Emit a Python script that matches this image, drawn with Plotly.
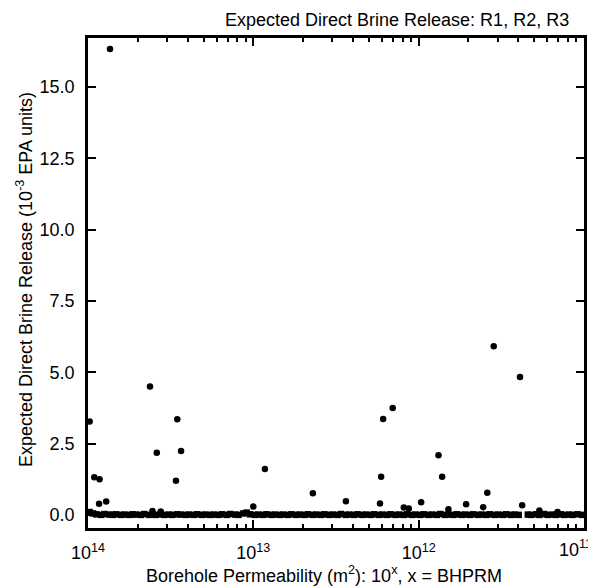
import plotly.graph_objects as go

# Outlier realizations: BHPRM (log10 permeability) and expected release (1e-3 EPA units)
bhprm_hi = [-13.867, -13.99, -13.625, -13.46, -13.584, -13.437, -13.468, -13.962, -13.93,
            -12.93, -12.64, -13.933, -13.89, -13.0, -13.61, -13.56,
            -11.546, -11.387, -12.157, -12.215, -11.88, -12.227, -11.858, -11.585,
            -12.44, -12.234, -11.985, -11.713, -11.61, -11.374, -12.09, -12.06, -11.82,
            -11.27, -11.16]
rel_hi = [16.33, 3.27, 4.50, 3.35, 2.18, 2.24, 1.20, 1.32, 1.25,
          1.61, 0.76, 0.39, 0.47, 0.29, 0.14, 0.12,
          5.91, 4.83, 3.75, 3.36, 2.09, 1.34, 1.34, 0.78,
          0.48, 0.40, 0.44, 0.37, 0.27, 0.34, 0.26, 0.22, 0.20,
          0.15, 0.10]

# Realizations with near-zero release (dense band)
bhprm_lo = [-13.99, -13.97, -13.95, -13.92, -13.90, -13.87, -13.85, -13.83, -13.80, -13.78,
            -13.75, -13.73, -13.71, -13.68, -13.66, -13.63, -13.61, -13.59, -13.56, -13.54,
            -13.51, -13.49, -13.46, -13.44, -13.41, -13.39, -13.36, -13.34, -13.31, -13.29,
            -13.26, -13.24, -13.21, -13.19, -13.16, -13.14, -13.11, -13.09, -13.06, -13.04,
            -13.02, -12.99, -12.97, -12.94, -12.92, -12.89, -12.87, -12.84, -12.82, -12.79,
            -12.77, -12.74, -12.72, -12.69, -12.67, -12.64, -12.62, -12.59, -12.57, -12.54,
            -12.52, -12.49, -12.47, -12.44, -12.42, -12.39, -12.37, -12.34, -12.32, -12.29,
            -12.27, -12.24, -12.22, -12.19, -12.17, -12.14, -12.12, -12.09, -12.07, -12.04,
            -12.02, -11.99, -11.97, -11.94, -11.92, -11.89, -11.87, -11.84, -11.82, -11.79,
            -11.77, -11.74, -11.72, -11.69, -11.67, -11.64, -11.62, -11.59, -11.57, -11.54,
            -11.52, -11.49, -11.47, -11.44, -11.42, -11.395, -11.34, -11.32, -11.29, -11.27,
            -11.24, -11.22, -11.19, -11.17, -11.14, -11.12, -11.09, -11.07, -11.04, -11.01]
rel_lo = [0.10, 0.05, 0.02, 0.00, 0.03, 0.01, 0.00, 0.02, 0.00, 0.01,
          0.00, 0.02, 0.01, 0.00, 0.03, 0.00, 0.01, 0.00, 0.02, 0.00,
          0.01, 0.00, 0.02, 0.01, 0.00, 0.01, 0.00, 0.02, 0.00, 0.01,
          0.00, 0.01, 0.00, 0.02, 0.00, 0.03, 0.01, 0.00, 0.05, 0.08,
          0.02, 0.00, 0.01, 0.00, 0.02, 0.00, 0.01, 0.00, 0.01, 0.00,
          0.02, 0.00, 0.01, 0.00, 0.02, 0.00, 0.01, 0.00, 0.02, 0.00,
          0.01, 0.00, 0.03, 0.00, 0.01, 0.00, 0.02, 0.00, 0.01, 0.00,
          0.02, 0.00, 0.01, 0.00, 0.02, 0.00, 0.01, 0.00, 0.02, 0.00,
          0.01, 0.00, 0.02, 0.00, 0.01, 0.00, 0.03, 0.00, 0.01, 0.00,
          0.02, 0.00, 0.01, 0.00, 0.02, 0.00, 0.01, 0.00, 0.02, 0.00,
          0.01, 0.00, 0.02, 0.00, 0.01, 0.00, 0.01, 0.00, 0.02, 0.00,
          0.03, 0.00, 0.01, 0.00, 0.02, 0.00, 0.01, 0.00, 0.02, 0.00]

x_tickvals = [1e-14, 1e-13, 1e-12, 1e-11]
x_ticktext = ["10<sup>14</sup>", "10<sup>13</sup>", "10<sup>12</sup>", ""]
x_last_label = "10<sup>11</sup>"  # drawn right-aligned at the page edge, as in the original
y_tickvals = [0.0, 2.5, 5.0, 7.5, 10.0, 12.5, 15.0]
x_minor = [m * 10.0 ** d for d in (-14, -13, -12) for m in range(2, 10)]

font_family = "Liberation Sans, Arial, Helvetica, sans-serif"
FS = 18

fig = go.Figure()
fig.add_trace(go.Scatter(
    x=[10.0 ** v for v in bhprm_lo],
    y=rel_lo,
    mode="markers",
    marker=dict(color="black", size=6.5, symbol="square", line=dict(width=0)),
    showlegend=False,
))
fig.add_trace(go.Scatter(
    x=[10.0 ** v for v in bhprm_hi],
    y=rel_hi,
    mode="markers",
    marker=dict(color="black", size=6.5, line=dict(width=0)),
    showlegend=False,
))

# page has an 8px body margin, so the figure is sized/margined to compensate
fig.update_layout(
    width=588, height=580,
    margin=dict(l=80, r=12, t=30, b=60, autoexpand=False),
    paper_bgcolor="white", plot_bgcolor="white",
    font=dict(family=font_family, size=FS, color="black"),
    annotations=[
        dict(text="Expected Direct Brine Release: R1, R2, R3",
             xref="paper", yref="paper", x=(571 - 88) / 496, y=1 + (38 - 20) / 490,
             xanchor="right", yanchor="middle", showarrow=False,
             font=dict(size=FS)),
        dict(text="Borehole Permeability (m<sup>2</sup>): 10<sup>x</sup>, x = BHPRM",
             xref="paper", yref="paper", x=(324 - 88) / 496, y=-(574 - 528) / 490,
             xanchor="center", yanchor="middle", showarrow=False,
             font=dict(size=FS)),
        dict(text="Expected Direct Brine Release (10<sup>-3</sup> EPA units)",
             xref="paper", yref="paper", x=(24 - 88) / 496, y=(528 - 280) / 490,
             xanchor="center", yanchor="middle", showarrow=False, textangle=-90,
             font=dict(size=FS)),
        dict(text=x_last_label,
             xref="paper", yref="paper", x=(594 - 88) / 496, y=-(535 - 528) / 490,
             xanchor="right", yanchor="top", showarrow=False,
             font=dict(size=FS)),
    ],
)

fig.update_xaxes(
    type="log", range=[-14, -11],
    tickmode="array", tickvals=x_tickvals, ticktext=x_ticktext,
    ticks="inside", ticklen=8, tickwidth=2, tickcolor="black",
    minor=dict(tickmode="array", tickvals=x_minor, ticks="inside", ticklen=4,
               tickwidth=1.5, tickcolor="black", showgrid=False),
    showline=True, linecolor="black", linewidth=2.5, mirror="ticks",
    showgrid=False, zeroline=False, automargin=False,
    ticklabelstandoff=7, ticklabeloverflow="allow",
    tickfont=dict(size=FS),
)
fig.update_yaxes(
    range=[-0.46, 16.72],
    tickmode="array", tickvals=y_tickvals,
    tickformat=".1f",
    ticks="inside", ticklen=8, tickwidth=2, tickcolor="black",
    showline=True, linecolor="black", linewidth=2.5, mirror="ticks",
    showgrid=False, zeroline=False, automargin=False,
    tickfont=dict(size=FS),
    ticklabelstandoff=7,
)

fig.write_html("out.html")
